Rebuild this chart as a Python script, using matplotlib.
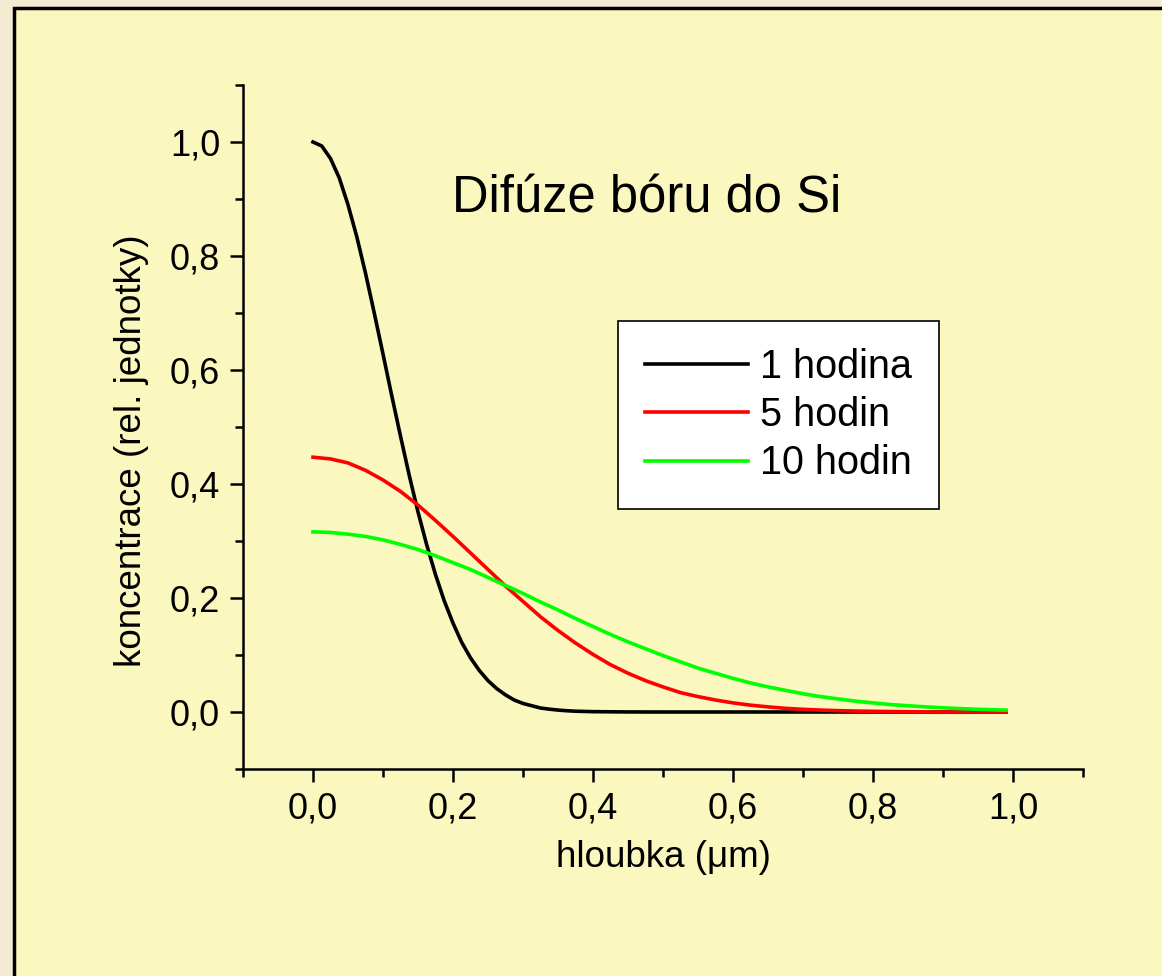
import numpy as np
import matplotlib
matplotlib.use("Agg")
import matplotlib.pyplot as plt
from matplotlib.patches import Rectangle
from matplotlib.ticker import FixedLocator, FuncFormatter

plt.rcParams['font.family'] = ['Liberation Sans', 'DejaVu Sans']

# hloubka (um), values
depth_1h = [0.0, 0.0125, 0.025, 0.0375, 0.05, 0.0625, 0.075, 0.0875, 0.1, 0.1125,
            0.125, 0.1375, 0.15, 0.1625, 0.175, 0.1875, 0.2, 0.2125, 0.225, 0.2375,
            0.25, 0.2625, 0.275, 0.2875, 0.3, 0.3125, 0.325, 0.3375, 0.35, 0.3625,
            0.375, 0.4, 0.45, 0.5, 0.6, 0.7, 0.8, 0.9, 0.99]
c_1h = [1.000, 0.993, 0.971, 0.937, 0.890, 0.834, 0.770, 0.700, 0.628, 0.555,
        0.484, 0.415, 0.351, 0.293, 0.241, 0.195, 0.156, 0.122, 0.095, 0.073,
        0.055, 0.041, 0.030, 0.021, 0.015, 0.011, 0.007, 0.005, 0.0034, 0.0022,
        0.0014, 0.0006, 0.0001, 0.0, 0.0, 0.0, 0.0, 0.0, 0.0]

depth = [0.0, 0.025, 0.05, 0.075, 0.1, 0.125, 0.15, 0.175, 0.2, 0.225,
         0.25, 0.275, 0.3, 0.325, 0.35, 0.375, 0.4, 0.425, 0.45, 0.475,
         0.5, 0.525, 0.55, 0.575, 0.6, 0.625, 0.65, 0.675, 0.7, 0.725,
         0.75, 0.775, 0.8, 0.825, 0.85, 0.875, 0.9, 0.925, 0.95, 0.975, 0.99]

c_5h = [0.447, 0.444, 0.437, 0.424, 0.407, 0.387, 0.363, 0.336, 0.308, 0.279,
        0.250, 0.221, 0.194, 0.167, 0.143, 0.121, 0.101, 0.083, 0.068, 0.055,
        0.044, 0.034, 0.027, 0.021, 0.016, 0.012, 0.009, 0.0064, 0.0047, 0.0034,
        0.0024, 0.0017, 0.0012, 0.0008, 0.0005, 0.0004, 0.0002, 0.0001, 0.0001, 0.0, 0.0]

c_10h = [0.316, 0.315, 0.312, 0.308, 0.302, 0.294, 0.285, 0.274, 0.262, 0.250,
         0.236, 0.222, 0.208, 0.193, 0.179, 0.164, 0.150, 0.136, 0.123, 0.111,
         0.099, 0.088, 0.077, 0.068, 0.059, 0.051, 0.044, 0.038, 0.032, 0.027,
         0.023, 0.019, 0.016, 0.013, 0.011, 0.009, 0.0073, 0.0059, 0.0047, 0.0038, 0.0033]

series_names = ['1 hodina', '5 hodin', '10 hodin']
series_colors = ['#000000', '#ff0000', '#00ff00']

W, H = 1162, 976
fig = plt.figure(figsize=(W / 100, H / 100), dpi=100, facecolor='#f5ead2')

# inner pale yellow panel with black frame
panel = Rectangle((14 / W, -0.02), 1.05, 1 - 8 / H + 0.02, transform=fig.transFigure,
                  facecolor='#faf7bf', edgecolor='black', linewidth=2.5, zorder=-10)
fig.patches.append(panel)

ax = fig.add_axes([243 / W, 1 - 769 / H, 840 / W, 684 / H])
ax.set_facecolor('none')

xs = [depth_1h, depth, depth]
for x, vals, name, col in zip(xs, [c_1h, c_5h, c_10h], series_names, series_colors):
    ax.plot(x, vals, color=col, linewidth=2.6, label=name, solid_joinstyle='round')

ax.set_xlim(-0.1, 1.1)
ax.set_ylim(-0.1, 1.1)

major = [0.0, 0.2, 0.4, 0.6, 0.8, 1.0]
minor = [round(-0.1 + 0.1 * i, 1) for i in range(13)]
minor = [m for m in minor if m not in major]
for axis in (ax.xaxis, ax.yaxis):
    axis.set_major_locator(FixedLocator(major))
    axis.set_minor_locator(FixedLocator(minor))
    axis.set_major_formatter(FuncFormatter(lambda v, p: f"{v:.1f}".replace('.', ',')))

ax.tick_params(which='major', direction='out', length=9.5, width=1.8, labelsize=26, pad=7)
ax.tick_params(which='minor', direction='out', length=5.5, width=1.8)

ax.spines['top'].set_visible(False)
ax.spines['right'].set_visible(False)
ax.spines['left'].set_linewidth(1.8)
ax.spines['bottom'].set_linewidth(1.8)

ax.set_xlabel('hloubka (\u03bcm)', fontsize=26.5)
ax.xaxis.set_label_coords(0.5, -0.129)
ax.xaxis.label.set_verticalalignment('center')
ax.set_ylabel('koncentrace (rel. jednotky)', fontsize=26.5)
ax.yaxis.set_label_coords(-0.133, 0.465)
ax.yaxis.label.set_verticalalignment('center')

ax.text(0.481, 0.813, 'Dif\u00faze b\u00f3ru do Si', transform=ax.transAxes,
        fontsize=36.5, ha='center', va='baseline')

leg = ax.legend(loc='upper left', bbox_to_anchor=(0.447, 0.655), borderaxespad=0,
                fontsize=28.5, handlelength=2.6, handletextpad=0.3, labelspacing=0.26,
                borderpad=0.68, fancybox=False, frameon=True, framealpha=1)
leg.get_frame().set_edgecolor('black')
leg.get_frame().set_linewidth(1.2)
leg.get_frame().set_facecolor('white')

fig.savefig('out.png', dpi=100, facecolor=fig.get_facecolor())
